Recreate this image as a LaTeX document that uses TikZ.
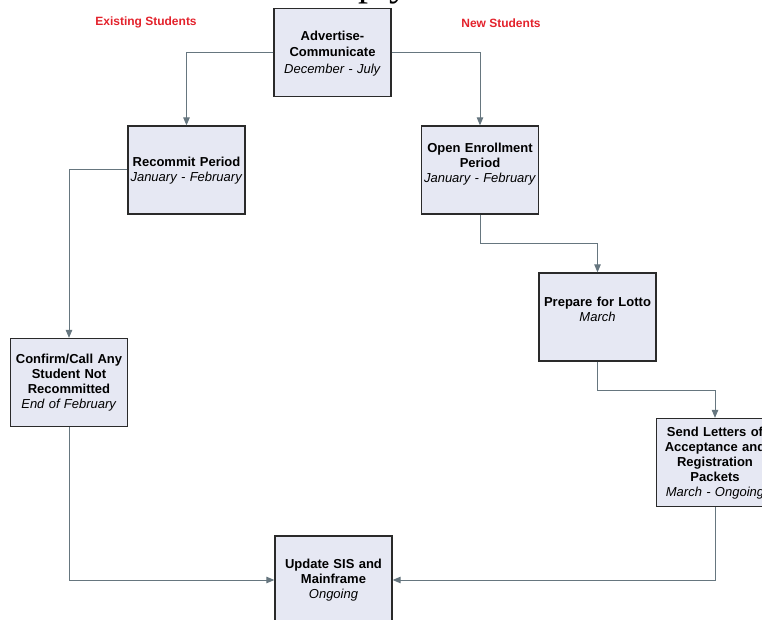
\documentclass[tikz,border=0pt]{standalone}
\usepackage{fontspec}
\setmainfont{Liberation Serif}
\newfontfamily\boxfont{Liberation Sans}
\usetikzlibrary{arrows.meta}
\definecolor{boxfill}{HTML}{E6E8F3}
\definecolor{boxline}{HTML}{2A2A2A}
\definecolor{connc}{HTML}{66767F}
\definecolor{labred}{HTML}{E3222C}
\tikzset{
  stepbox/.style={draw=boxline, line width=1.3pt, fill=boxfill, minimum width=117pt, minimum height=88pt, inner sep=0pt},
  boxtext/.style={align=center, text width=125pt, inner sep=0pt, font=\boxfont\fontsize{13}{15}\selectfont, text=black},
  conn/.style={draw=connc, line width=1pt, -{Triangle[length=8pt,width=6.5pt]}},
  grouplabel/.style={font=\boxfont\bfseries\fontsize{12}{13}\selectfont, text=labred, inner sep=0pt}
}
\begin{document}
\begin{tikzpicture}[x=1pt,y=-1pt]
\useasboundingbox (0,0) rectangle (762,620);
\begin{scope}
\clip (0,0) rectangle (762,620);
% partial title at the top edge
\node[anchor=base west, font=\fontsize{40}{44}\selectfont, inner sep=0pt] (title) at (358,-4) {ply};

\node[grouplabel] (lexist) at (146,22) {Existing Students};
\node[grouplabel] (lnew) at (501,23) {New Students};

\node[stepbox] (adv) at (332.5,52.5) {};
\node[stepbox] (rec) at (186.5,170) {};
\node[stepbox] (open) at (480,170) {};
\node[stepbox] (lotto) at (597.5,317) {};
\node[stepbox] (conf) at (69,382.5) {};
\node[stepbox] (send) at (715,462.5) {};
\node[stepbox] (upd) at (333.5,580) {};

\node[boxtext, font=\boxfont\fontsize{13}{16.5}\selectfont, yshift=-1pt] (tadv) at (adv.center) {\textbf{Advertise-}\\\textbf{Communicate}\\\textit{December - July}};
\node[boxtext, yshift=-1pt] (trec) at (rec.center) {\textbf{Recommit Period}\\\textit{January - February}};
\node[boxtext, yshift=6pt] (topen) at (open.center) {\textbf{Open Enrollment}\\\textbf{Period}\\\textit{January - February}};
\node[boxtext, yshift=8pt] (tlotto) at (lotto.center) {\textbf{Prepare for Lotto}\\\textit{March}};
\node[boxtext] (tconf) at (conf.center) {\textbf{Confirm/Call Any}\\\textbf{Student Not}\\\textbf{Recommitted}\\\textit{End of February}};
\node[boxtext, yshift=-1pt] (tsend) at (send.center) {\textbf{Send Letters of}\\\textbf{Acceptance and}\\\textbf{Registration}\\\textbf{Packets}\\\textit{March - Ongoing}};
\node[boxtext, yshift=0pt] (tupd) at (upd.center) {\textbf{Update SIS and}\\\textbf{Mainframe}\\\textit{Ongoing}};

\draw[conn] (adv.west) -| (rec.north);
\draw[conn] (adv.east) -| (open.north);
\draw[conn] (rec.west) -| (conf.north);
\draw[conn] (open.south) -- ++(0,29) -| (lotto.north);
\draw[conn] (lotto.south) -- ++(0,29) -| (send.north);
\draw[conn] (conf.south) |- (upd.west);
\draw[conn] (send.south) |- (upd.east);
\end{scope}
\end{tikzpicture}
\end{document}
